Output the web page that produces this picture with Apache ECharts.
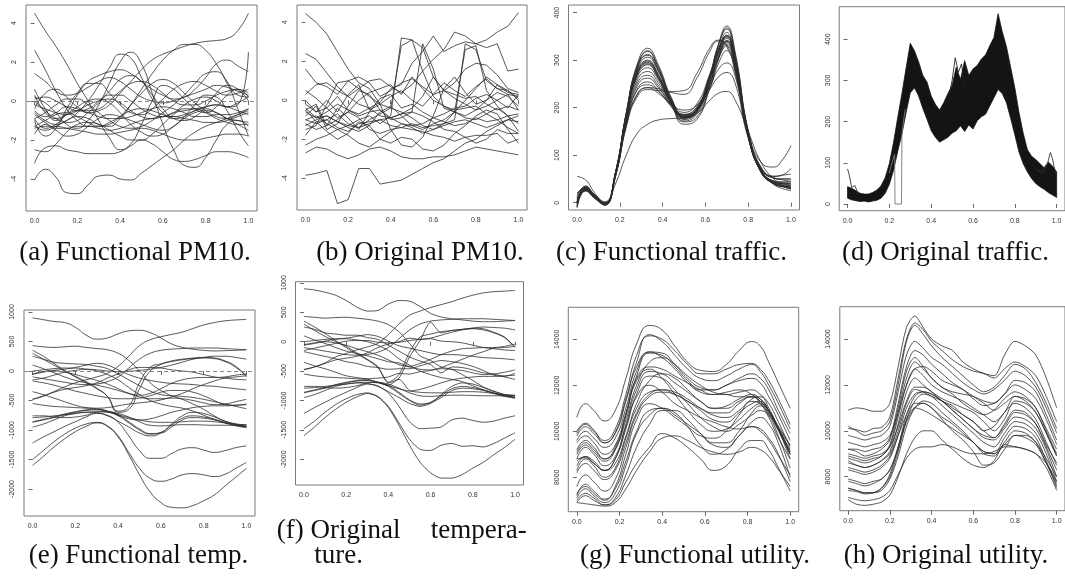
<!DOCTYPE html>
<html><head><meta charset="utf-8">
<script src="https://cdn.jsdelivr.net/npm/echarts@6/dist/echarts.min.js"></script>
<style>html,body{margin:0;padding:0;background:#fff}#c{width:1065px;height:581px}</style>
</head><body><div id="c"></div>
<script>
// ---------- x sample positions ----------
const xT21=[0,0.05,0.1,0.15,0.2,0.25,0.3,0.35,0.4,0.45,0.5,0.55,0.6,0.65,0.7,0.75,0.8,0.85,0.9,0.95,1];
const xTraffic=[0,0.04,0.08,0.13,0.18,0.23,0.28,0.33,0.38,0.44,0.5,0.56,0.62,0.66,0.7,0.74,0.8,0.86,0.92,0.96,1];
const xTrafficOrig=[0,0.02,0.04,0.06,0.08,0.1,0.12,0.14,0.16,0.18,0.2,0.22,0.24,0.26,0.28,0.3,0.32,0.34,0.36,0.38,0.4,0.42,0.44,0.46,0.48,0.5,0.52,0.54,0.56,0.58,0.6,0.62,0.64,0.66,0.68,0.7,0.72,0.74,0.76,0.78,0.8,0.82,0.84,0.86,0.88,0.9,0.92,0.94,0.96,0.98,1];
const xUtilFunc=[0,0.04,0.08,0.13,0.18,0.23,0.28,0.34,0.4,0.46,0.52,0.58,0.64,0.7,0.76,0.82,0.86,0.9,0.94,1];
const xUtilOrig=[0,0.04,0.08,0.12,0.16,0.2,0.24,0.28,0.32,0.36,0.4,0.45,0.5,0.55,0.6,0.65,0.7,0.75,0.8,0.85,0.9,0.95,1];

// ---------- tick labels ----------
const xTicks=[0,0.2,0.4,0.6,0.8,1];
const yTicksPM=[-4,-2,0,2,4];
const yTicksTraffic=[0,100,200,300,400];
const yTicksTemp=[-2000,-1500,-1000,-500,0,500,1000];
const yTicksUtil=[8000,10000,12000,14000];
const captions=["(a) Functional PM10.","(b) Original PM10.","(c) Functional traffic.","(d) Original traffic.","(e) Functional temp.","(f) Original","tempera-","ture.","(g) Functional utility.","(h) Original utility."];

// ---------- (a) functional PM10 ----------
const pm10Func=[
[4.5,3.6,2.8,1.9,0.9,0.0,-1.0,-1.9,-2.5,-2.2,-1.2,0.0,0.8,0.6,0.1,-0.4,-0.6,-0.3,0.3,0.6,0.2],
[-0.5,-0.8,-0.6,-0.3,-0.4,-0.6,-0.5,-0.2,0.4,1.0,1.6,2.1,2.4,2.6,2.8,2.95,3.05,3.1,3.2,3.6,4.5],
[-4.05,-3.5,-3.9,-4.7,-4.75,-4.3,-3.85,-3.8,-4.0,-4.05,-3.7,-3.3,-2.9,-2.5,-2.0,-1.6,-1.3,-1.1,-0.9,-0.7,-0.5],
[-3.2,-2.4,-2.3,-2.5,-2.6,-2.7,-2.7,-2.7,-2.6,-2.3,-2.0,-2.2,-2.6,-3.0,-3.1,-3.0,-2.8,-2.6,-2.6,-2.7,-2.9],
[-0.6,-1.0,-1.2,-1.0,-0.6,0.0,0.8,1.7,2.4,2.2,1.2,0.1,-0.6,-0.9,-0.8,-0.5,-0.4,-0.6,-0.9,-1.0,-1.1],
[0.2,-0.1,-0.6,-1.2,-1.4,-1.0,-0.2,0.9,2.0,2.5,1.9,0.4,-1.2,-2.5,-3.3,-3.4,-2.9,-2.0,-1.2,-1.0,-1.3],
[-1.3,-1.5,-1.3,-1.0,-0.8,-0.9,-1.2,-1.3,-0.9,-0.2,0.6,1.4,2.1,2.6,2.9,2.9,2.6,1.9,1.0,0.3,0.2],
[-0.9,-0.6,-0.2,0.1,0.1,-0.2,-0.6,-1.0,-1.3,-1.4,-1.3,-1.0,-0.6,-0.2,0.3,0.9,1.4,1.5,0.9,-0.4,-1.8],
[-0.2,-0.4,-0.6,-0.7,-0.5,-0.2,0.0,0.1,-0.1,-0.5,-0.8,-0.9,-0.8,-0.6,-0.5,-0.4,-0.3,-0.2,-0.3,-0.2,2.5],
[2.6,1.6,0.5,-0.4,-1.0,-1.3,-1.3,-1.1,-0.8,-0.5,-0.4,-0.5,-0.7,-0.8,-0.7,-0.5,-0.3,-0.2,-0.3,-0.5,-0.7],
[1.4,1.0,0.5,0.3,0.4,0.7,1.0,1.2,1.0,0.6,0.2,0.0,-0.1,0.0,0.2,0.4,0.6,0.8,0.7,0.5,0.3],
[0.6,-0.4,-1.0,-0.6,0.3,1.0,1.3,1.5,1.6,1.4,1.0,0.6,0.3,0.1,0.2,0.6,1.2,1.9,2.1,1.8,1.5],
[-1.7,-1.2,-1.5,-1.8,-1.7,-1.3,-0.9,-0.7,-0.8,-1.0,-1.2,-1.4,-1.5,-1.3,-0.8,-0.2,0.3,0.2,-0.5,-1.5,-2.3],
[-1.0,-1.8,-1.4,-0.4,0.4,0.9,0.9,0.4,-0.2,-0.6,-0.7,-0.4,0.1,0.6,0.9,1.0,0.8,0.5,0.3,0.4,0.6],
[-1.4,-1.3,-1.3,-1.4,-1.5,-1.6,-1.7,-1.7,-1.6,-1.5,-1.4,-1.5,-1.7,-1.9,-2.0,-2.0,-1.9,-1.8,-1.7,-1.7,-1.8],
[0.0,-0.5,-0.9,-1.1,-1.0,-0.6,-0.1,0.3,0.3,0.0,-0.4,-0.7,-0.8,-0.6,-0.2,0.1,0.2,0.0,-0.3,-0.1,0.2],
[-0.9,-1.4,-1.2,-0.7,-0.3,0.0,0.1,-0.1,-0.6,-1.2,-1.6,-1.8,-1.7,-1.3,-0.9,-0.6,-0.5,-0.6,-0.9,-1.2,-1.5],
[-0.4,0.4,0.6,0.2,-0.3,-0.5,-0.4,0.0,0.5,0.9,1.0,0.8,0.4,0.0,-0.2,-0.2,0.0,0.3,0.5,0.6,0.4],
[0.3,-0.6,-0.9,-0.7,-0.5,-0.6,-0.8,-0.9,-0.9,-0.8,-0.6,-0.4,-0.3,-0.4,-0.6,-0.8,-0.8,-0.7,-0.7,-0.6,-0.4],
[-2.5,-2.6,-2.2,-1.6,-1.2,-1.1,-1.2,-1.5,-1.8,-2.0,-2.0,-1.7,-1.2,-0.7,-0.4,-0.4,-0.6,-0.9,-1.1,-1.2,-1.2],
[-1.3,-1.0,-0.7,-0.6,-0.8,-1.1,-1.3,-1.2,-0.8,-0.2,0.4,0.9,1.1,0.9,0.4,-0.1,-0.5,-0.8,-0.9,-0.7,-0.4],
[0.1,0.2,0.0,-0.3,-0.5,-0.4,0.0,0.5,1.1,1.3,1.0,0.3,-0.4,-0.9,-1.0,-0.8,-0.3,0.4,0.8,0.6,0.0],
[-0.7,-1.1,-1.4,-1.4,-1.3,-1.3,-1.4,-1.5,-1.4,-1.2,-1.0,-0.9,-0.8,-0.8,-0.9,-1.0,-1.1,-1.1,-1.0,-0.8,-0.6]
];

// ---------- (b) original PM10 ----------
const pm10Orig=[
[4.45,4.0,3.4,2.5,1.6,0.9,0.6,-0.2,-1.5,-2.3,-2.4,-1.9,-0.8,0.6,1.2,0.4,-0.2,0.0,0.8,0.5,0.1],
[-0.4,-0.9,-0.6,-0.2,-0.5,-0.7,-0.4,-0.1,0.6,0.8,1.9,2.5,3.3,2.5,2.8,3.0,2.9,3.1,3.5,3.8,4.5],
[-3.85,-3.75,-3.6,-5.3,-5.1,-3.5,-3.5,-4.3,-4.2,-4.1,-3.8,-3.5,-3.2,-3.0,-2.6,-2.2,-2.0,-1.6,-1.3,-1.0,-0.8],
[-2.7,-2.4,-2.5,-2.8,-3.0,-2.8,-2.5,-2.4,-2.6,-2.9,-3.0,-3.0,-2.9,-2.9,-2.8,-2.6,-2.4,-2.5,-2.6,-2.7,-2.8],
[-1.0,-0.8,-1.2,-1.5,-1.3,-1.0,-0.8,-1.2,-0.8,3.2,3.1,2.7,1.2,0.5,0.3,0.1,0.2,-0.2,-0.5,-0.3,-0.5],
[-0.5,-0.2,-1.3,-0.4,-0.9,-1.5,-0.6,-0.5,-1.0,-0.9,-0.6,2.9,1.6,-0.4,-0.6,-0.8,-0.5,-0.3,0.0,0.3,0.2],
[-1.0,-1.2,-1.0,-1.4,-1.6,-1.2,-1.1,-1.0,-1.3,-1.4,-1.2,-1.4,-1.3,-1.2,-1.0,2.9,2.6,1.0,0.6,0.3,-0.5],
[-0.6,-0.9,-0.8,-1.1,-1.3,-1.4,-1.2,-1.0,-0.9,-1.2,-1.3,-1.5,-1.2,-1.0,-0.6,2.6,2.8,0.5,-0.3,-0.8,-1.6],
[-1.5,-1.3,-0.2,0.9,1.0,0.6,0.2,-0.2,-0.4,2.8,3.1,1.5,0.2,-0.3,-0.5,-0.4,-0.3,-0.7,-1.0,-1.4,-1.7],
[0.3,0.8,0.9,0.5,0.2,0.6,1.0,1.1,0.7,0.4,0.8,1.5,2.1,2.6,3.5,3.3,2.9,2.7,2.9,1.5,1.6],
[2.4,2.1,1.4,0.7,0.2,-0.2,-0.4,-0.8,-0.9,-0.7,-0.6,-0.8,-1.1,-1.5,-1.6,-1.9,-2.2,-2.0,-1.5,-1.7,-1.7],
[1.6,0.9,0.7,0.3,1.0,1.2,0.9,0.2,0.5,0.9,1.1,0.7,0.3,0.5,0.9,1.6,1.9,1.8,1.3,0.6,0.4],
[-1.8,-1.1,-1.6,-2.0,-1.7,-1.1,-1.3,-2.0,-2.2,-1.9,-2.0,-2.5,-2.6,-2.3,-1.7,-1.3,-0.8,-0.5,-0.7,-1.5,-2.2],
[-0.2,-0.6,0.0,-0.6,0.3,0.8,-0.5,-0.2,0.2,0.5,0.0,-0.3,0.3,0.9,0.5,0.2,0.7,1.1,0.6,0.5,0.0],
[-1.2,-1.5,-1.3,-1.0,-0.6,-0.9,-1.5,-1.7,-1.5,-1.4,-1.5,-1.6,-1.8,-1.9,-2.1,-1.9,-1.8,-1.8,-1.7,-2.2,-2.0],
[0.0,-0.6,-0.4,0.2,-0.5,-0.8,-0.6,0.1,0.3,-0.4,-0.2,-0.6,-0.9,-0.7,-0.4,-0.3,0.1,0.3,0.0,-0.4,0.3],
[-1.3,-1.0,-0.8,-1.1,-1.4,-1.6,-1.3,-0.6,-0.3,-0.8,-1.3,-1.2,-0.9,-1.1,-1.3,-1.2,-0.9,-1.1,-1.0,-0.8,-0.7],
[-0.8,-0.3,-1.5,-1.2,-0.3,0.5,0.3,-0.5,-0.9,-0.7,-0.4,0.2,1.2,0.5,0.1,-0.2,-0.5,0.0,0.4,0.2,-0.3],
[-2.3,-2.0,-1.8,-1.5,-1.8,-2.2,-2.4,-2.0,-1.6,-1.2,-1.4,-1.7,-1.5,-1.3,-1.1,-1.0,-1.2,-1.4,-1.2,-1.0,-1.1],
[0.5,0.1,-0.4,-0.9,-0.6,0.0,0.4,0.6,0.8,0.3,1.2,0.6,0.0,-0.3,-0.6,-0.9,-1.0,-0.7,-0.4,-0.8,-1.2],
[-0.5,-1.1,-1.0,-0.7,-1.2,-1.4,-1.0,-0.7,-0.4,-0.6,-0.9,-1.3,-1.5,-1.2,-0.6,0.0,0.6,1.2,0.8,0.4,0.3]
];

// ---------- (c) functional traffic ----------
const trafficFunc=[
[-10,32,16,-5,65,190,290,325,290,222,180,192,262,330,368,310,150,70,42,36,32],
[-5,33,17,-4,64,188,286,318,285,220,182,195,265,332,372,315,152,68,40,34,30],
[0,30,15,-2,63,186,282,312,280,218,185,198,268,330,365,308,148,66,40,35,35],
[5,33,17,0,64,185,278,306,276,216,180,195,260,322,358,302,146,66,42,36,30],
[-8,31,15,-3,63,184,275,300,270,213,184,196,262,320,352,298,144,65,40,34,28],
[0,28,13,-3,62,182,270,294,265,210,178,192,256,314,346,293,142,64,40,35,32],
[10,35,18,2,63,180,266,290,262,210,182,197,260,316,348,294,144,68,44,40,40],
[0,30,15,0,62,178,262,284,258,210,186,202,266,320,350,296,146,70,46,44,45],
[-5,30,14,-4,62,176,256,276,252,208,180,198,258,312,340,288,142,68,45,42,42],
[0,26,12,-3,60,172,250,268,246,205,175,190,250,302,330,280,140,66,44,40,35],
[15,35,16,0,60,170,245,262,242,205,178,194,250,304,334,284,145,72,52,50,50],
[20,30,12,-2,58,166,238,254,236,202,172,186,240,292,320,272,140,70,52,48,45],
[0,28,14,-2,60,168,236,248,234,208,195,205,244,280,294,265,140,72,52,50,50],
[5,25,10,-5,56,160,228,242,230,206,185,200,238,264,274,250,136,74,56,58,60],
[20,30,12,-3,58,166,226,242,240,232,228,262,318,340,332,280,140,68,44,40,38],
[0,28,12,-2,56,160,222,238,236,234,236,272,325,342,328,276,138,66,42,38,35],
[10,25,12,-3,40,100,145,165,174,177,178,188,215,230,234,215,150,85,50,42,40],
[0,30,14,-2,62,180,268,292,262,210,178,190,250,306,340,290,152,85,75,90,120],
[0,28,14,-3,62,182,272,298,268,212,182,198,262,318,352,300,150,75,55,58,72],
[-10,25,10,-5,60,180,272,296,268,214,190,208,270,322,352,298,144,64,38,30,25],
[0,30,15,-2,64,188,284,310,278,214,170,180,245,306,342,292,142,64,40,34,30],
[55,48,22,-3,55,175,280,320,284,214,165,175,240,300,338,290,140,66,42,36,33]
];

// ---------- (d) original traffic: band of curves (lower / upper edge) and stray curves ----------
const trafficOrigLow=[14,10,8,6,7,5,7,9,14,26,48,82,128,170,222,270,282,262,232,206,178,162,150,156,162,172,178,190,176,192,182,202,212,218,238,258,278,268,246,208,168,126,98,78,62,50,42,36,28,22,16];
const trafficOrigHigh=[42,38,32,26,24,24,28,34,44,64,98,150,210,268,330,390,372,345,312,296,262,242,228,246,268,288,332,302,348,312,328,336,352,362,384,404,462,418,382,332,282,222,172,132,116,108,98,88,102,92,78];
const dropT=[0.2,0.215,0.225,0.227,0.258,0.26,0.275];
const dropV=[75,105,120,0,0,170,230];
const startT=[0,0.008,0.02,0.035,0.05];
const startV=[85,70,40,45,25];
const endT=[0.9,0.93,0.955,0.97,0.98,0.99,1];
const endV=[85,75,95,125,110,85,70];
const midT=[0.48,0.5,0.515,0.53,0.545,0.56];
const midV=[250,300,355,320,340,280];

// ---------- (e) functional temperature ----------
const tempFunc=[
[900,870,840,820,740,610,540,560,630,680,690,650,560,460,400,370,350,340,345,350,360],
[-480,-430,-350,-270,-200,-150,-100,-40,80,250,430,530,580,620,660,720,780,820,850,865,875],
[430,410,400,410,420,400,380,360,300,180,0,-200,-330,-420,-480,-560,-650,-760,-850,-900,-950],
[350,250,130,10,-100,-200,-300,-430,-680,-600,-200,60,120,160,190,210,220,210,160,60,-80],
[300,200,100,0,-90,-180,-290,-430,-700,-650,-300,0,110,170,200,220,230,220,170,80,-100],
[250,200,150,130,120,110,80,40,-50,-150,-250,-340,-400,-420,-430,-450,-480,-520,-560,-600,-640],
[-60,-20,10,30,60,100,130,100,20,-60,-120,-160,-190,-210,-220,-230,-250,-260,-280,-300,-320],
[-150,-120,-70,-20,10,30,20,0,-10,-5,10,30,60,100,150,200,230,250,250,230,200],
[-50,-10,0,-20,-60,-110,-160,-220,-300,-380,-440,-470,-470,-460,-470,-500,-540,-570,-560,-520,-480],
[100,40,-30,-100,-160,-200,-240,-280,-330,-380,-410,-380,-300,-210,-150,-120,-110,-110,-100,-70,-50],
[-480,-420,-360,-310,-280,-250,-200,-120,-50,20,60,60,50,20,0,-20,-60,-100,-120,-140,-150],
[-170,-200,-240,-290,-340,-380,-420,-450,-470,-470,-460,-420,-360,-330,-330,-360,-420,-500,-570,-580,-560],
[-350,-400,-460,-520,-580,-620,-630,-620,-590,-560,-540,-520,-490,-440,-380,-300,-230,-170,-120,-100,-80],
[-870,-830,-790,-740,-700,-670,-660,-690,-760,-880,-1000,-1070,-1040,-920,-800,-760,-780,-820,-870,-920,-950],
[-860,-820,-780,-730,-690,-660,-650,-680,-740,-860,-980,-1060,-1050,-950,-830,-790,-800,-830,-880,-930,-960],
[-790,-780,-760,-740,-720,-700,-690,-700,-740,-790,-830,-860,-870,-870,-860,-850,-850,-860,-880,-900,-910],
[-760,-760,-780,-790,-780,-750,-700,-690,-720,-780,-860,-920,-930,-920,-910,-910,-915,-920,-920,-920,-920],
[-950,-900,-830,-760,-720,-700,-710,-760,-850,-950,-1050,-1100,-1050,-900,-760,-700,-720,-780,-850,-900,-920],
[-1220,-1120,-1030,-940,-860,-780,-720,-750,-870,-1100,-1350,-1480,-1480,-1400,-1320,-1300,-1340,-1380,-1350,-1300,-1270],
[-1500,-1350,-1200,-1070,-970,-900,-870,-930,-1100,-1380,-1650,-1820,-1870,-1830,-1760,-1740,-1760,-1790,-1750,-1650,-1550],
[-1600,-1450,-1290,-1150,-1030,-940,-880,-940,-1120,-1420,-1760,-2050,-2230,-2310,-2320,-2280,-2200,-2100,-1950,-1800,-1650],
[-550,-580,-600,-610,-620,-630,-640,-680,-750,-810,-830,-810,-760,-700,-660,-620,-600,-590,-590,-580,-570],
[0,20,40,50,50,30,0,-60,-150,-280,-400,-500,-560,-600,-630,-680,-750,-820,-880,-920,-940],
[-100,-130,-160,-190,-220,-230,-220,-180,-100,50,200,300,350,370,380,390,390,390,380,370,360]
];

// ---------- (f) original temperature ----------
const tempOrig=[
[900,880,840,790,700,590,520,530,640,700,690,600,480,420,390,370,350,340,340,350,360],
[-470,-430,-360,-260,-200,-140,-90,-30,120,300,450,520,580,630,680,740,790,830,850,860,870],
[430,415,400,410,415,400,380,350,290,170,-30,-240,-320,-430,-470,-560,-660,-770,-840,-900,-960],
[350,250,140,20,-100,-210,-310,-440,-690,-560,-180,80,130,170,190,210,220,200,150,70,-100],
[300,190,90,0,-80,-190,-300,-420,-700,-620,-260,20,330,150,190,210,230,220,160,80,-90],
[250,210,150,130,110,110,70,40,-60,-160,-260,-330,-390,-530,-430,-440,-480,-530,-550,-600,-640],
[-60,-30,10,40,60,90,120,90,10,-70,-110,-150,-190,-220,-220,-230,-250,-270,-280,-290,-310],
[-150,-110,-70,-30,10,20,20,-10,-20,-10,20,40,60,110,160,200,230,250,240,230,200],
[-50,-20,0,-20,-60,-120,-170,-230,-310,-390,-430,-470,-480,-460,-470,-490,-530,-560,-550,-520,-480],
[100,30,-30,-100,-160,-200,-240,-290,-340,-360,-420,-370,-300,-220,-160,-120,-110,-100,-100,-80,-40],
[-480,-430,-370,-310,-280,-250,-190,-100,-40,0,60,40,50,10,0,-20,-60,-100,-120,-140,-150],
[-170,-210,-250,-290,-340,-370,-420,-440,-470,-460,-460,-410,-360,-320,-340,-370,-420,-490,-570,-590,-540],
[-350,-410,-460,-520,-580,-610,-630,-620,-600,-540,-550,-510,-490,-440,-370,-300,-230,-170,-110,-100,-80],
[-870,-830,-790,-740,-700,-670,-660,-690,-760,-880,-1000,-1080,-1030,-920,-800,-760,-780,-820,-870,-920,-950],
[-860,-820,-780,-730,-690,-660,-650,-690,-740,-860,-990,-1060,-1040,-950,-830,-790,-800,-830,-880,-930,-960],
[-790,-780,-760,-740,-720,-700,-690,-700,-740,-640,-830,-860,-870,-870,-860,-850,-850,-860,-880,-900,-910],
[-760,-760,-780,-790,-780,-750,-700,-690,-720,-790,-870,-920,-930,-920,-910,-910,-915,-920,-920,-920,-920],
[-950,-900,-830,-760,-720,-700,-710,-760,-850,-950,-1050,-1100,-1050,-900,-760,-700,-720,-780,-850,-900,-920],
[-1220,-1120,-1030,-940,-860,-780,-720,-750,-870,-1100,-1360,-1480,-1470,-1450,-1330,-1300,-1340,-1370,-1350,-1300,-1260],
[-1480,-1350,-1200,-1070,-970,-900,-870,-930,-1100,-1380,-1660,-1830,-1850,-1760,-1730,-1780,-1770,-1790,-1730,-1640,-1550],
[-1600,-1450,-1290,-1150,-1030,-940,-880,-940,-1120,-1420,-1760,-2050,-2230,-2320,-2320,-2260,-2150,-2050,-1920,-1800,-1660],
[-550,-580,-600,-610,-620,-630,-640,-690,-750,-800,-840,-810,-760,-700,-650,-620,-600,-590,-590,-580,-570],
[0,20,40,50,50,30,0,-60,-150,-290,-400,-500,-560,-610,-640,-680,-750,-820,-880,-920,-940],
[-100,-130,-160,-190,-220,-230,-220,-180,-100,50,200,300,350,370,380,390,390,390,380,370,360]
];

// ---------- (g) functional utility ----------
const utilFunc=[
[10600,11200,10900,10450,10900,12300,13800,14600,14400,13700,13000,12650,12600,12900,13500,13900,13700,13000,12200,11000],
[9900,10300,10000,9600,10100,11600,13300,14150,14000,13500,12900,12500,12500,12700,12900,12950,12700,12200,11500,10300],
[9800,10200,9900,9500,9950,11400,13000,14200,13900,13300,12700,12300,12200,12400,12700,12900,12600,12000,11300,10100],
[9600,10000,9700,9300,9700,11000,12600,13450,13400,12900,12300,11900,11800,12000,12300,12500,12300,11800,11000,9900],
[9000,9400,9100,8700,9200,10700,12400,13400,13300,12800,12200,11800,11800,12000,12200,12300,12100,11500,10800,9600],
[9100,9500,9200,8800,9200,10500,12000,13000,13200,12900,12400,12000,11700,11600,11500,11500,11300,10900,10300,9400],
[8800,9300,9000,8500,8900,10300,11800,12600,12500,12100,11700,11300,11000,11100,11400,11600,11400,10900,10200,9100],
[8800,8850,8600,8300,8600,9800,11200,12200,12500,12300,11800,11300,11000,11000,11300,11500,11200,10600,9800,8800],
[8300,8800,8500,8000,8400,9700,11000,11700,11800,11600,11300,11000,10800,10800,11200,11500,11400,10900,10200,9200],
[8200,8600,8300,7900,8300,9500,10800,11600,11800,11700,11400,11000,10700,10600,10900,11300,11200,10800,10100,9000],
[7600,8100,7800,7400,7900,9300,10700,11500,11700,11600,11300,10900,10500,10400,10800,11200,11300,10900,10200,9000],
[7300,7600,7300,7000,7600,9000,10500,11200,11000,10600,10200,9800,9700,10000,10700,11400,11500,11000,10200,8800],
[7200,7700,7400,7050,7500,8700,10000,10900,11000,10700,10300,9900,9500,9500,10000,10800,11100,10700,9900,8400],
[7000,7300,7100,6800,7100,8100,9300,10300,10900,10900,10500,9900,9400,9300,9800,10400,10600,10300,9600,8000],
[6900,6850,6800,6750,6900,7500,8300,9100,9700,9800,9600,9300,9100,9000,9100,9300,9200,8900,8400,7600],
[6900,7200,7000,6800,7000,7800,8600,9300,9900,9700,9300,8800,8300,8500,9200,9600,9600,9200,8500,7400],
[7100,7500,7200,6900,7300,8500,9900,10700,11000,10800,10200,9400,9000,9200,9800,10200,10100,9700,9100,7800],
[8700,8900,8600,8300,8800,10100,11600,12400,12300,11800,11200,10600,10200,10000,10300,10700,10900,10700,10200,9100],
[10000,10350,10050,9500,9900,11300,12800,13450,13200,12700,12100,11700,11600,11700,11800,11600,11300,10800,10200,9400],
[9500,9800,9500,9000,9400,10800,12300,12800,12700,12400,12100,11800,11600,11600,11700,11800,11600,11200,10500,9300],
[8500,8900,8700,8300,8800,10200,11500,12000,11700,11200,10900,10600,10400,10200,10100,10200,10000,9600,9000,8100],
[9200,9600,9300,8800,9300,10700,12200,12700,12300,11600,10900,10300,10000,10100,10500,11000,11200,10900,10200,9000]
];

// ---------- (h) original utility ----------
const utilOrig=[
[10900,11000,10950,10850,10850,11200,12800,14500,15000,14500,14000,13700,13500,13000,12700,12500,12400,13300,13900,13700,13300,12300,11000],
[10100,10050,9950,10100,10150,10600,12300,14000,14700,14400,13900,13500,13100,12800,12600,12500,12300,12700,13000,12800,12400,11500,10400],
[10200,10000,9800,9900,10000,10400,12000,13900,14600,14200,13700,13200,12800,12400,12000,11700,11900,12400,12900,12700,12100,11200,10100],
[9800,9700,9600,9700,9800,10200,11700,13300,13900,13600,13200,12900,12500,12100,11800,11600,11800,12200,12600,12400,11900,11000,9900],
[9200,9200,9100,9200,9300,9700,11200,12800,13500,13300,12900,12500,12100,11800,11400,11100,11200,11600,12200,12100,11700,10700,9600],
[9200,9100,8900,9000,9200,9600,11000,12600,13200,12800,12300,11900,11700,11600,11500,11300,11200,11600,12000,11800,11400,10500,9400],
[8900,8800,8700,8800,8900,9400,10800,12300,13000,12700,12300,11900,11600,11200,10900,10700,10900,11400,11700,11500,11000,10100,9200],
[8800,8700,8600,8700,8900,9300,10600,12000,12700,12400,12000,11700,11500,11300,11000,10700,10400,10800,11500,11400,11000,10000,9000],
[8600,8500,8400,8500,8700,9100,10300,11700,12300,12000,11700,11400,11200,11000,10800,10400,10000,10500,11300,11200,10800,9900,8900],
[8700,8500,8400,8500,8700,9000,10000,11200,11800,11700,11500,11300,11000,10700,10400,10000,10200,10800,11200,11000,10500,9500,8500],
[8300,8200,8100,8200,8400,8800,9800,11000,11600,11700,11600,11300,10900,10500,10100,9800,9700,10300,10900,10800,10300,9300,8300],
[7500,7400,7300,7300,7500,8100,9300,10700,11500,11700,11600,11300,10900,10500,10100,9700,9600,10100,10600,10500,10100,9200,8000],
[7400,7350,7250,7300,7500,8000,9100,10500,11300,11600,11500,11100,10700,10300,9900,9500,9300,9900,10400,10300,9900,9000,7800],
[7500,7400,7300,7300,7400,7900,8900,10200,11000,11200,11000,10600,10300,9900,9500,9100,9000,9700,10200,10100,9700,8700,7500],
[7900,7800,7700,7800,7900,8300,9300,10500,11000,10900,10700,10400,10100,9800,9500,9000,8900,9500,10000,9900,9500,8600,7600],
[7000,6800,6750,6800,6900,7200,8000,9000,9700,10000,10000,9600,9200,8800,8500,8400,8700,9400,9300,9200,9000,8400,7400],
[7100,7000,6950,7000,7100,7400,8100,8800,9200,9300,9300,9400,9300,9100,9000,9000,9100,9300,9300,9200,9000,8600,7800],
[9000,8900,8800,8900,9000,9300,10200,11300,11900,11900,11700,11300,11100,10700,10400,10000,9700,10200,10800,10700,10300,9400,8600],
[9500,9400,9300,9400,9500,9800,10800,12000,12700,12800,12600,12200,12000,11800,11500,11200,10900,11200,11500,11300,10800,9900,8900],
[8400,8300,8200,8300,8500,8900,9800,10700,11200,11200,11000,10500,10000,9600,9100,8500,8600,9200,9800,9800,9500,8800,8000],
[7800,7700,7600,7700,7900,8300,9200,10400,11000,11300,11200,10800,10400,10000,9500,9100,9000,9400,9800,9700,9400,8600,7700]
];

// ---------- layout (pixel boxes and axis ranges) ----------
const boxes=[
 {left:26,top:5,width:231,height:206,ymin:-5.64,ymax:4.92,yt:yTicksPM},
 {left:297,top:5,width:230,height:205,ymin:-5.63,ymax:4.89,yt:yTicksPM},
 {left:568.5,top:5,width:231,height:205,ymin:-15.4,ymax:416,yt:yTicksTraffic},
 {left:839.2,top:6.7,width:230,height:204,ymin:-16.3,ymax:479,yt:yTicksTraffic},
 {left:24,top:310,width:231,height:206,ymin:-2458,ymax:1034,yt:yTicksTemp},
 {left:295.5,top:281.7,width:228,height:203.3,ymin:-2437,ymax:1020,yt:yTicksTemp},
 {left:568.3,top:307.3,width:230.4,height:204.4,ymin:6504,ymax:15391,yt:yTicksUtil},
 {left:839.8,top:306.7,width:230,height:204,ymin:6519,ymax:15407,yt:yTicksUtil}
];

const LINE='#2b2b2b', LW=0.8, AXC='#444';
const grid=[], xAxis=[], yAxis=[], series=[];
boxes.forEach((b,i)=>{
  grid.push({left:b.left,top:b.top,width:b.width,height:b.height,show:true,borderColor:'#7a7a7a',borderWidth:1,backgroundColor:'transparent'});
  xAxis.push({type:'value',gridIndex:i,min:-0.04,max:1.04,
    axisLine:{show:false},splitLine:{show:false},
    axisTick:{show:true,length:4,customValues:xTicks,lineStyle:{color:AXC,width:0.8}},
    axisLabel:{customValues:xTicks,margin:7,fontSize:7,color:'#333',fontFamily:'Liberation Sans',formatter:v=>Number(v).toFixed(1)}});
  yAxis.push({type:'value',gridIndex:i,min:b.ymin,max:b.ymax,
    axisLine:{show:false},splitLine:{show:false},
    axisTick:{show:true,length:4,customValues:b.yt,lineStyle:{color:AXC,width:0.8}},
    axisLabel:{customValues:b.yt,rotate:90,margin:8,fontSize:7,color:'#333',fontFamily:'Liberation Sans',formatter:v=>String(v)}});
});

function addCurves(idx,xs,curves,smooth,zero){
  curves.forEach((c,k)=>{
    const n=Math.min(xs.length,c.length);
    const s={type:'line',xAxisIndex:idx,yAxisIndex:idx,data:c.slice(0,n).map((v,i)=>[xs[i],v]),
      showSymbol:false,symbol:'none',smooth:smooth,silent:true,animation:false,
      lineStyle:{color:LINE,width:LW}};
    if(zero&&k===0){
      s.markLine={silent:true,symbol:'none',label:{show:false},animation:false,
        lineStyle:{type:[4,3],color:'#777',width:0.9},data:[{yAxis:0}]};
    }
    series.push(s);
  });
}
addCurves(0,xT21,pm10Func,true,true);
addCurves(1,xT21,pm10Orig,false,false);
addCurves(2,xTraffic,trafficFunc,true,false);
addCurves(4,xT21,tempFunc,true,true);
addCurves(5,xT21,tempOrig,0.25,false);
addCurves(6,xUtilFunc,utilFunc,true,false);
addCurves(7,xUtilOrig,utilOrig,0.3,false);

// (d): dense band of curves as a filled region between its edges
series.push({type:'custom',xAxisIndex:3,yAxisIndex:3,data:[[0,0]],silent:true,animation:false,
  renderItem:(params,api)=>{
    const pts=[];
    for(let i=0;i<xTrafficOrig.length;i++) pts.push(api.coord([xTrafficOrig[i],trafficOrigHigh[i]]));
    for(let i=xTrafficOrig.length-1;i>=0;i--) pts.push(api.coord([xTrafficOrig[i],trafficOrigLow[i]]));
    return {type:'polygon',shape:{points:pts},style:{fill:'#141414',stroke:'#141414',lineWidth:0.8}};
  }});
[[dropT,dropV,'#777'],[startT,startV,'#333'],[endT,endV,'#333'],[midT,midV,'#222']].forEach(([xs,ys,col])=>{
  series.push({type:'line',xAxisIndex:3,yAxisIndex:3,data:xs.map((x,i)=>[x,ys[i]]),showSymbol:false,symbol:'none',
    silent:true,animation:false,lineStyle:{color:col,width:0.9}});
});

// ---------- captions ----------
const CF='27px "Liberation Serif"';
function cap(text,x,y,align){
  return {type:'text',x:x,y:y,silent:true,style:{text:text,font:CF,fill:'#111',align:align||'center',verticalAlign:'middle'}};
}
const graphic=[
  cap(captions[0],135,253), cap(captions[1],420,253), cap(captions[2],671.5,253), cap(captions[3],945.5,253),
  cap(captions[4],138.5,556),
  cap(captions[5],276.7,531,'left'), cap(captions[6],526.7,531,'right'), cap(captions[7],314.3,556,'left'),
  cap(captions[8],695,556), cap(captions[9],946,556)
];

const chart=echarts.init(document.getElementById('c'),null,{renderer:'canvas'});
chart.setOption({animation:false,backgroundColor:'#fff',grid,xAxis,yAxis,series,graphic});
</script>
</body></html>
